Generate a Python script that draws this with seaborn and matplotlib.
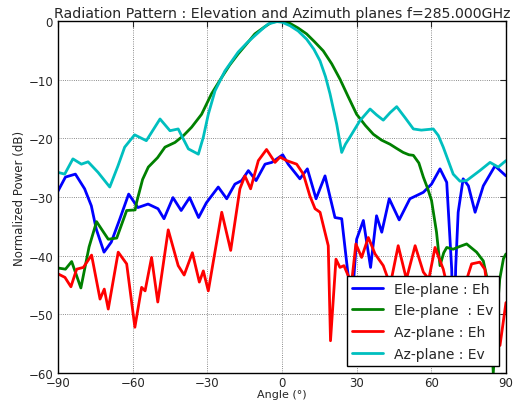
import numpy as np
import pandas as pd
import matplotlib
matplotlib.use("Agg")
import matplotlib.pyplot as plt
import seaborn as sns

# (angle in degrees, power in dB)
ele_eh_x = [-90, -87, -83, -79.3, -76.6, -74.6, -71.5, -68.6, -65.2, -61.6, -57.9, -53.8,
            -49.8, -47.4, -43.8, -40.5, -37.1, -33.5, -30.4, -25.6, -22.2, -18.9, -16.2,
            -13.5, -10.4, -6.8, -4.1, 0.3, 2.5, 7.2, 10.2, 13.7, 17.3, 21.3, 24.0, 26.6,
            28.3, 30, 32.7, 35.6, 38.0, 40.1, 43.1, 47.1, 51.4, 56.8, 60.1, 63.5, 66.2,
            68.2, 69.0, 69.8, 70.8, 72.8, 74.9, 77.6, 80.9, 85.6, 90]
ele_eh_y = [-29.0, -26.6, -26.1, -28.6, -31.5, -35.5, -39.4, -37.7, -33.8, -29.5, -31.8, -31.2,
            -32.0, -33.7, -30.1, -32.3, -30.1, -33.5, -31.0, -28.3, -30.3, -27.8, -27.2,
            -25.5, -27.2, -24.4, -24.1, -22.8, -24.4, -26.9, -25.2, -30.3, -26.4, -33.5, -33.7, -43.4,
            -47.0, -37.2, -34.0, -42.0, -33.2, -36.0, -30.3, -33.9, -30.3, -29.2, -27.8, -25.2, -27.5,
            -42.3, -58.0, -42.0, -32.6, -26.9, -28.1, -32.6, -28.1, -24.7, -26.4]

ele_ev_x = [-90, -87, -84.5, -80.8, -77.5, -74.5, -72, -69.8, -66.4, -62.4, -59, -58.4, -56,
            -53.7, -50, -47, -43, -39.5, -36.3, -32.3, -28.3, -24.2, -21, -17.6, -14, -10.9,
            -7, -4.1, -1, 3.2, 6.5, 9.9, 13, 16.6, 20, 23.3, 26.5, 30, 33.5, 36.7, 40, 43.4,
            46, 48.7, 51, 52.8, 55, 56.8, 58.5, 60.1, 62.1, 63.5, 65, 66.2, 68.8, 71, 74.2,
            78.2, 80.9, 82.5, 84, 84.9, 86, 87.5, 89, 90]
ele_ev_y = [-42.1, -42.3, -41.0, -45.5, -38.5, -34.2, -35.8, -37.2, -37.0, -32.3, -32.2, -30.9, -27.0,
            -24.9, -23.3, -21.5, -20.7, -19.5, -18.1, -15.9, -12.4, -9.6, -7.5, -5.6, -3.8, -2.2,
            -1.0, -0.2, 0.0, -0.4, -1.2, -2.2, -3.5, -5.1, -7.3, -9.9, -12.8, -15.9, -17.8, -19.3, -20.3, -21.0,
            -21.7, -22.4, -22.8, -22.9, -24.2, -26.6, -28.5, -30.6, -36.0, -41.7, -39.5, -38.6, -38.9, -38.5, -38.0,
            -39.4, -40.9, -44.0, -52.0, -60.0, -52.0, -44.0, -40.5, -39.7]

az_eh_x = [-90, -87.2, -84.8, -82.5, -79.8, -76.5, -73.1, -71.4, -69.8, -65.8, -62.4, -59.1,
           -56.4, -55, -52.4, -49.9, -45.7, -41.7, -39.3, -36, -33.2, -31.6, -29.6, -24.2,
           -20.6, -16.9, -14.9, -12.6, -9.5, -6.2, -2.8, -0.8, 1.9, 5.9, 8.6, 11.2, 13.3,
           15.3, 18.6, 19.5, 21.7, 23.3, 24.9, 26.6, 28, 29.7, 32, 34.7, 37.4, 40.7, 43.5,
           46.7, 50, 53.5, 56.8, 59, 61.5, 64.8, 68, 72, 76.2, 79.5, 81.5, 84, 87.6, 90]
az_eh_y = [-43.1, -43.7, -45.3, -42.3, -42.0, -39.9, -47.4, -45.7, -49.1, -39.4, -41.4, -52.2,
           -45.4, -46.0, -40.3, -47.9, -35.6, -41.7, -43.3, -39.5, -44.5, -42.6, -46.0, -32.6,
           -39.1, -28.6, -26.4, -28.6, -23.8, -21.9, -24.1, -23.2, -23.8, -24.4, -26.1, -29.8, -32.0,
           -32.6, -38.3, -54.5, -40.6, -42.0, -41.7, -43.4, -44.5, -38.0, -40.3, -36.9, -39.7, -41.7, -45.0,
           -38.3, -44.0, -38.3, -42.8, -44.0, -38.6, -42.3, -48.0, -47.0, -41.4, -41.1, -42.3, -50.0, -55.3, -48.0]

az_ev_x = [-90, -87.3, -84, -80.6, -77.9, -73.9, -69.2, -65.9, -63.2, -59.2, -54.5, -49, -45,
           -41.7, -37.6, -33.6, -31.6, -29.6, -26.9, -22.9, -17.6, -14, -10.9, -8, -5.5, -2, 0,
           3.2, 6.5, 9.9, 12.8, 15.3, 17.5, 19.3, 22, 24, 25.5, 27.3, 31.3, 35.4, 38, 40.7,
           43.5, 46.1, 49.5, 52.8, 56, 60.8, 62.8, 64.8, 68.8, 71.5, 74.2, 79.5, 83.6, 86.9, 90]
az_ev_y = [-25.8, -26.1, -23.5, -24.4, -24.0, -25.8, -28.3, -24.7, -21.5, -19.4, -20.4, -16.7, -18.7,
           -18.4, -21.8, -22.7, -19.8, -15.9, -11.9, -8.5, -5.3, -3.7, -2.5, -1.4, -0.5, -0.1, -0.2,
           -0.8, -1.7, -3.1, -4.8, -6.8, -9.5, -12.4, -17.6, -22.4, -21.0, -19.8, -17.0, -15.0, -16.0, -16.9,
           -15.6, -14.6, -16.5, -18.4, -18.6, -18.4, -19.5, -21.5, -26.1, -27.3, -27.2, -25.5, -24.1, -24.9, -23.8]

series = [
    ("Ele-plane : Eh", ele_eh_x, ele_eh_y, "#0000ff"),
    ("Ele-plane  : Ev", ele_ev_x, ele_ev_y, "#008000"),
    ("Az-plane : Eh", az_eh_x, az_eh_y, "#ff0000"),
    ("Az-plane : Ev", az_ev_x, az_ev_y, "#00bfbf"),
]

sns.set_style("white")
plt.rcParams['font.family'] = ['DejaVu Sans']

fig = plt.figure(figsize=(5.2, 4.06), dpi=100)
ax = fig.add_axes([0.1115, 0.0788, 0.8615, 0.867])

for label, xs, ys, col in series:
    df = pd.DataFrame({"angle": xs, "power": ys})
    sns.lineplot(data=df, x="angle", y="power", ax=ax, color=col, linewidth=2,
                 label=label, estimator=None, sort=False)

ax.set_xlim(-90, 90)
ax.set_ylim(-60, 0)
ax.set_xticks(np.arange(-90, 91, 30))
ax.set_yticks(np.arange(-60, 1, 10))
ax.grid(True, color="black", linestyle=":", linewidth=0.6, alpha=0.6)
ax.tick_params(direction="in", top=True, right=True, labelsize=8.5, length=4)
ax.tick_params(axis="x", pad=2)
for s in ax.spines.values():
    s.set_color("black")
    s.set_linewidth(1)

ax.set_title("Radiation Pattern : Elevation and Azimuth planes f=285.000GHz", fontsize=10.2, pad=3)
ax.set_xlabel("Angle (°)", fontsize=8, labelpad=0)
ax.set_ylabel("Normalized Power (dB)", fontsize=8.5, labelpad=2)

leg = ax.legend(loc="lower right", fontsize=10, fancybox=False, framealpha=1,
                edgecolor="black", handlelength=2.2, borderaxespad=0.5, labelspacing=0.55)
leg.get_frame().set_linewidth(1)

fig.savefig("out.png", dpi=100)
